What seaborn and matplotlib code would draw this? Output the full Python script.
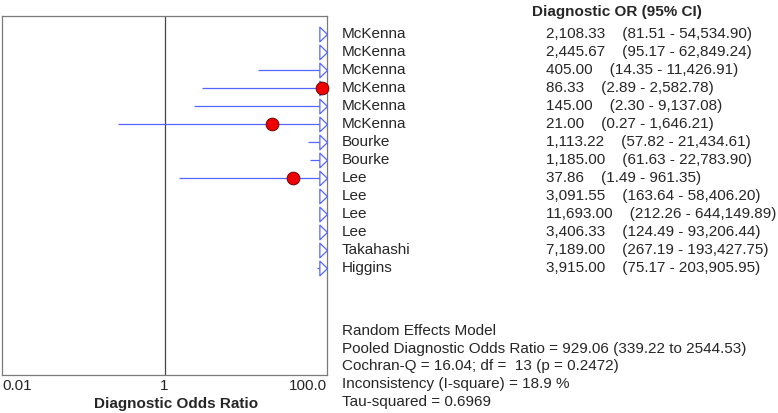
"""
Forest plot of diagnostic odds ratios with a text table on the right.
"""
import matplotlib
matplotlib.use("Agg")
import matplotlib.pyplot as plt
from matplotlib.path import Path
import numpy as np
import pandas as pd
import seaborn as sns

studies = ["McKenna", "McKenna", "McKenna", "McKenna", "McKenna", "McKenna",
           "Bourke", "Bourke", "Lee", "Lee", "Lee", "Lee", "Takahashi", "Higgins"]
dor = [2108.33, 2445.67, 405.00, 86.33, 145.00, 21.00, 1113.22, 1185.00,
       37.86, 3091.55, 11693.00, 3406.33, 7189.00, 3915.00]
ci_low = [81.51, 95.17, 14.35, 2.89, 2.30, 0.27, 57.82, 61.63,
          1.49, 163.64, 212.26, 124.49, 267.19, 75.17]
ci_high = [54534.90, 62849.24, 11426.91, 2582.78, 9137.08, 1646.21, 21434.61,
           22783.90, 961.35, 58406.20, 644149.89, 93206.44, 193427.75, 203905.95]

x_ticks = [0.01, 1, 100]
x_tick_labels = ["0.01", "1", "100.0"]

summary_lines = [
    "Random Effects Model",
    "Pooled Diagnostic Odds Ratio = 929.06 (339.22 to 2544.53)",
    "Cochran-Q = 16.04; df =  13 (p = 0.2472)",
    "Inconsistency (I-square) = 18.9 %",
    "Tau-squared = 0.6969",
]

df = pd.DataFrame({"study": studies, "dor": dor, "lo": ci_low, "hi": ci_high})
df["row"] = np.arange(len(df))

sns.set_style("white")
plt.rcParams["font.family"] = ["Liberation Sans", "DejaVu Sans"]

W, H = 778, 413
fig = plt.figure(figsize=(W / 100, H / 100), dpi=100)


def fx(px):
    return px / W


def fy(py):
    return 1 - py / H


ax = fig.add_axes([fx(2), fy(375), fx(327) - fx(2), fy(16) - fy(375)])
ax.set_xscale("log")
xmin, xmax = x_ticks[0], x_ticks[-1]
ax.set_xlim(xmin, xmax)
ax.set_ylim(18.94, -1.0)

blue = "#5566ff"
ax.axvline(1, color="#444444", lw=0.9, zorder=1)
ax.hlines(df["row"], df["lo"], df["hi"], color=blue, lw=0.9, zorder=2)

# open arrow at the right edge where the interval runs past the axis
arrow = Path([(0, 0), (-1.04, 1), (-1.04, -1), (0, 0)],
             [Path.MOVETO, Path.LINETO, Path.LINETO, Path.CLOSEPOLY])
over = df[df["hi"] > xmax]
ax.scatter(np.full(len(over), xmax), over["row"], marker=arrow, s=11.0 ** 2,
           facecolors="white", edgecolors=blue, linewidths=0.9, zorder=3,
           clip_on=False)

inside = df[df["dor"] <= xmax]
sns.scatterplot(data=inside, x="dor", y="row", ax=ax, s=85, color="#ee0000",
                edgecolor="#5a0000", linewidth=0.6, zorder=4, clip_on=False,
                legend=False)

for s in ax.spines.values():
    s.set_color("#7a7a7a")
    s.set_linewidth(0.9)
ax.set_yticks([])
ax.set_xticks(x_ticks)
ax.set_xticklabels([])
ax.minorticks_off()
ax.tick_params(axis="x", length=0)
ax.set_xlabel("")
ax.set_ylabel("")

# tick labels and axis title
fs = 11
fig.text(fx(2), fy(386), x_tick_labels[0], ha="left", va="center", fontsize=fs)
fig.text(fx(164), fy(386), x_tick_labels[1], ha="center", va="center", fontsize=fs)
fig.text(fx(327), fy(386), x_tick_labels[2], ha="right", va="center", fontsize=fs)
fig.text(fx(176), fy(404), "Diagnostic Odds Ratio", ha="center", va="center",
         fontsize=fs, fontweight="bold")

# right-hand table
fig.text(fx(617), fy(12), "Diagnostic OR (95% CI)", ha="center", va="center",
         fontsize=fs, fontweight="bold")
for i, r in df.iterrows():
    y = 34 + 18 * r["row"]
    fig.text(fx(342), fy(y), r["study"], ha="left", va="center", fontsize=fs)
    txt = f"{r['dor']:,.2f}    ({r['lo']:,.2f} - {r['hi']:,.2f})"
    fig.text(fx(546), fy(y), txt, ha="left", va="center", fontsize=fs)

for k, line in enumerate(summary_lines):
    fig.text(fx(342), fy(331 + 17.7 * k), line, ha="left", va="center", fontsize=fs)

fig.savefig("out.png", dpi=100)
plt.close(fig)
